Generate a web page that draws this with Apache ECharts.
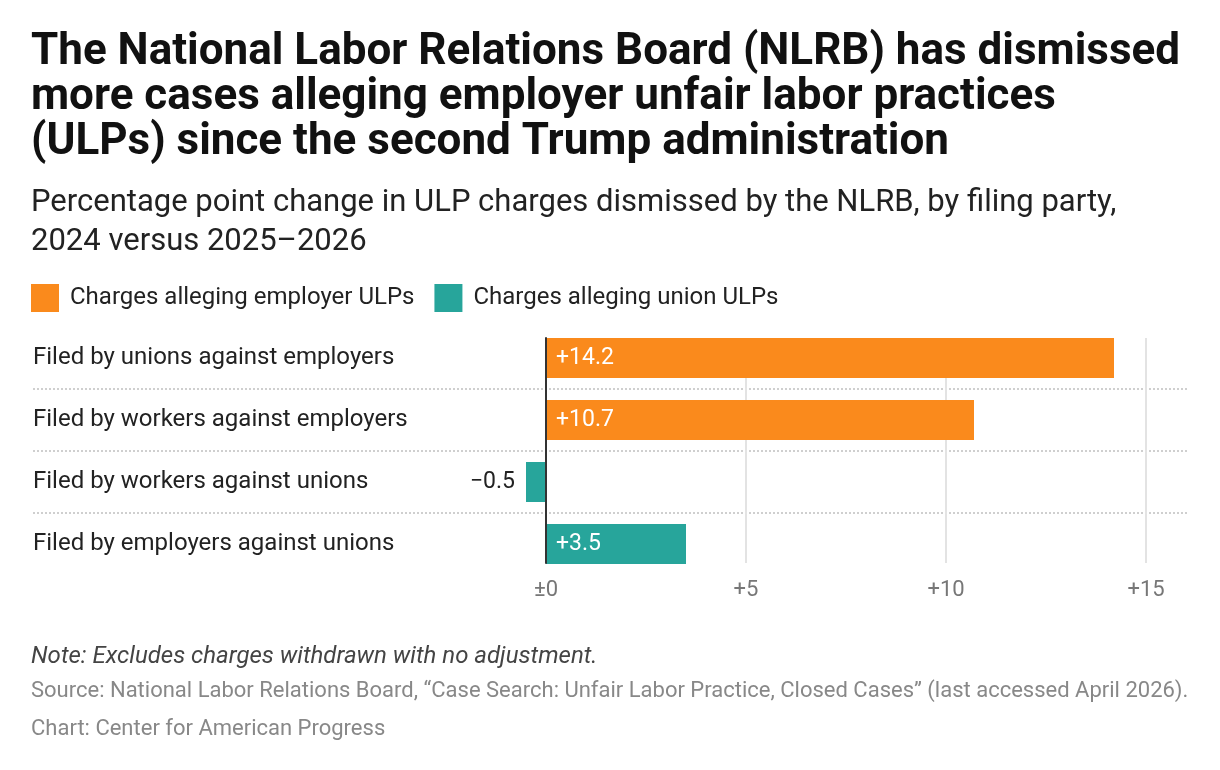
<!DOCTYPE html>
<html lang="en">
<head>
<meta charset="UTF-8">
<title>NLRB dismissed ULP charges</title>
<script src="https://cdn.jsdelivr.net/npm/echarts@6/dist/echarts.min.js"></script>
<style>
  html, body { margin: 0; padding: 0; background: #fff; }
  #main { width: 1220px; height: 770px; }
</style>
</head>
<body>
<div id="main"></div>
<script>
// data
var categories = [
  'Filed by unions against employers',
  'Filed by workers against employers',
  'Filed by workers against unions',
  'Filed by employers against unions'
];
var employerUlps = [14.2, 10.7, '-', '-'];
var unionUlps = ['-', '-', -0.5, 3.5];
var seriesNames = ['Charges alleging employer ULPs', 'Charges alleging union ULPs'];

var font = 'Roboto, "Noto Sans", sans-serif';
var orange = '#fa8a1c';
var teal = '#27a59b';

function fmtValue(v) {
  if (v > 0) return '+' + v.toFixed(1);
  if (v < 0) return '\u2212' + Math.abs(v).toFixed(1);
  return '\u00b10';
}

var chart = echarts.init(document.getElementById('main'));

var barLabel = {
  show: true,
  position: 'insideLeft',
  distance: 10,
  color: '#fff',
  fontFamily: font,
  fontSize: 23,
  formatter: function (p) { return fmtValue(p.value); }
};

var option = {
  backgroundColor: '#fff',
  animation: false,
  title: [
    {
      text: 'The National Labor Relations Board (NLRB) has dismissed\nmore cases alleging employer unfair labor practices\n(ULPs) since the second Trump administration',
      left: 31, top: 30, padding: 0,
      textStyle: { fontFamily: font, fontSize: 44, fontWeight: 'bold', color: '#111', lineHeight: 45 }
    },
    {
      text: 'Percentage point change in ULP charges dismissed by the NLRB, by filing party,\n2024 versus 2025\u20132026',
      left: 31, top: 184, padding: 0,
      textStyle: { fontFamily: font, fontSize: 31, fontWeight: 'normal', color: '#222', lineHeight: 39 }
    },
    {
      text: 'Note: Excludes charges withdrawn with no adjustment.',
      left: 31, top: 645, padding: 0,
      textStyle: { fontFamily: font, fontSize: 24, fontStyle: 'italic', fontWeight: 'normal', color: '#444' }
    },
    {
      text: 'Source: National Labor Relations Board, \u201cCase Search: Unfair Labor Practice, Closed Cases\u201d (last accessed April 2026).',
      left: 31, top: 680, padding: 0,
      textStyle: { fontFamily: font, fontSize: 22, fontWeight: 'normal', color: '#888' }
    },
    {
      text: 'Chart: Center for American Progress',
      left: 31, top: 718, padding: 0,
      textStyle: { fontFamily: font, fontSize: 22, fontWeight: 'normal', color: '#888' }
    }
  ],
  legend: {
    left: 31, top: 284, padding: 0,
    icon: 'rect',
    itemWidth: 28, itemHeight: 28,
    itemGap: 20,
    data: seriesNames,
    textStyle: { fontFamily: font, fontSize: 24, color: '#222', padding: [0, 0, 0, 6] }
  },
  grid: [
    // rows: labels, separators and bars
    { left: 33, top: 327, width: 1155, height: 248 },
    // vertical gridlines and tick labels
    { left: 346, top: 338, width: 800, height: 225 }
  ],
  xAxis: [
    {
      gridIndex: 0, type: 'value', show: false,
      min: -12.825, max: 16.05
    },
    {
      gridIndex: 1, type: 'value',
      min: -5, max: 15, interval: 5,
      axisLine: { show: false },
      axisTick: { show: false },
      axisLabel: {
        margin: 16,
        color: '#777', fontFamily: font, fontSize: 22,
        formatter: function (v) { return v < 0 ? '' : fmtValue(v).replace('.0', ''); }
      },
      splitLine: {
        show: true,
        lineStyle: { color: ['transparent', 'transparent', '#e3e3e3', '#e3e3e3', '#e3e3e3'], width: 2 }
      }
    }
  ],
  yAxis: [
    {
      gridIndex: 0, type: 'category', inverse: true,
      data: categories,
      axisLine: { show: false },
      axisTick: { show: false },
      axisLabel: {
        inside: true, margin: 0,
        color: '#222', fontFamily: font, fontSize: 24
      },
      splitLine: {
        show: true,
        lineStyle: { color: ['transparent', '#cfcfcf', '#cfcfcf', '#cfcfcf', 'transparent'], type: [2, 2], width: 2 }
      }
    },
    {
      gridIndex: 1, type: 'value', min: 0, max: 1,
      z: 5,
      axisLine: { show: true, onZero: true, lineStyle: { color: '#333', width: 2 } },
      axisTick: { show: false },
      axisLabel: { show: false },
      splitLine: { show: false }
    }
  ],
  series: [
    {
      name: seriesNames[0], type: 'bar', stack: 'all',
      xAxisIndex: 0, yAxisIndex: 0,
      barWidth: 40,
      itemStyle: { color: orange },
      label: barLabel,
      data: employerUlps
    },
    {
      name: seriesNames[1], type: 'bar', stack: 'all',
      xAxisIndex: 0, yAxisIndex: 0,
      barWidth: 40,
      itemStyle: { color: teal },
      label: barLabel,
      data: unionUlps.map(function (v) {
        if (v !== '-' && v < 0) {
          return { value: v, label: { position: 'left', color: '#222', distance: 11 } };
        }
        return v;
      })
    }
  ]
};

chart.setOption(option);
</script>
</body>
</html>
